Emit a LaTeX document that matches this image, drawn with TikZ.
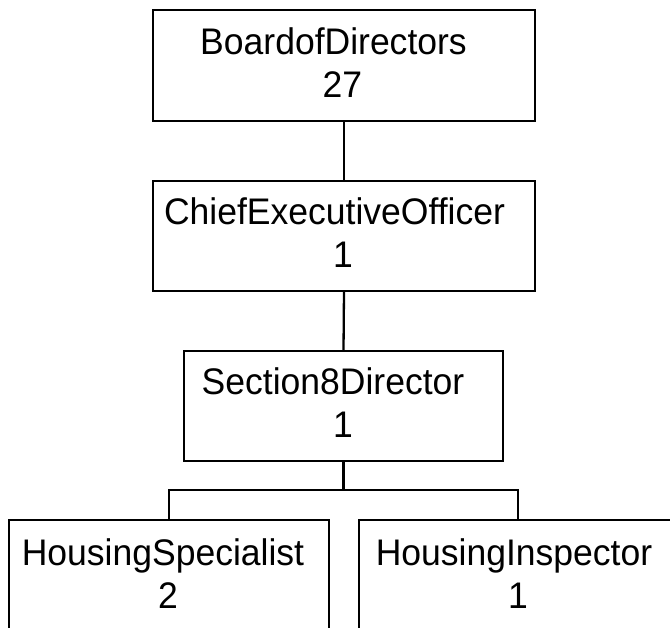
\documentclass[tikz,border=0pt]{standalone}
\usepackage{fontspec}
\setmainfont{Liberation Sans}[FakeStretch=0.96]
\begin{document}
\begin{tikzpicture}[x=1pt,y=-1pt,
  orgbox/.style={draw=black, line width=2.3pt, rectangle, inner sep=0pt, outer sep=0pt},
  lbl/.style={anchor=base, inner sep=0pt, font=\fontsize{37}{43}\selectfont, text=black},
  link/.style={draw=black, line width=2.3pt}]
\path[use as bounding box] (0,0) rectangle (670,628);
\clip (0,0) rectangle (670,628);
% boxes
\node[orgbox, minimum width=382pt, minimum height=111pt] (board) at (344,65.5) {};
\node[orgbox, minimum width=382pt, minimum height=110pt] (ceo) at (344,236) {};
\node[orgbox, minimum width=319pt, minimum height=110pt] (sec) at (343.5,406) {};
\node[orgbox, minimum width=320pt, minimum height=110pt] (hs) at (169,575) {};
\node[orgbox, minimum width=318pt, minimum height=110pt] (hi) at (518,575) {};
% labels
\node[lbl] (boardA) at (333.5,55) {BoardofDirectors};
\node[lbl] (boardB) at (342.5,98) {27};
\node[lbl] (ceoA) at (334.5,225) {ChiefExecutiveOfficer};
\node[lbl] (ceoB) at (343,268) {1};
\node[lbl] (secA) at (333,395) {Section8Director};
\node[lbl] (secB) at (343,438) {1};
\node[lbl] (hsA) at (163,565) {HousingSpecialist};
\node[lbl] (hsB) at (168,608) {2};
\node[lbl] (hiA) at (514,565) {HousingInspector};
\node[lbl] (hiB) at (518,608) {1};
% connectors
\coordinate (split) at (343.5,490);
\draw[link] (board.south) -- (ceo.north);
\draw[link] (ceo.south) -- (sec.north);
\draw[link] (sec.south) -- (split);
\draw[link] (hs.north) |- (split) -| (hi.north);
\end{tikzpicture}
\end{document}
